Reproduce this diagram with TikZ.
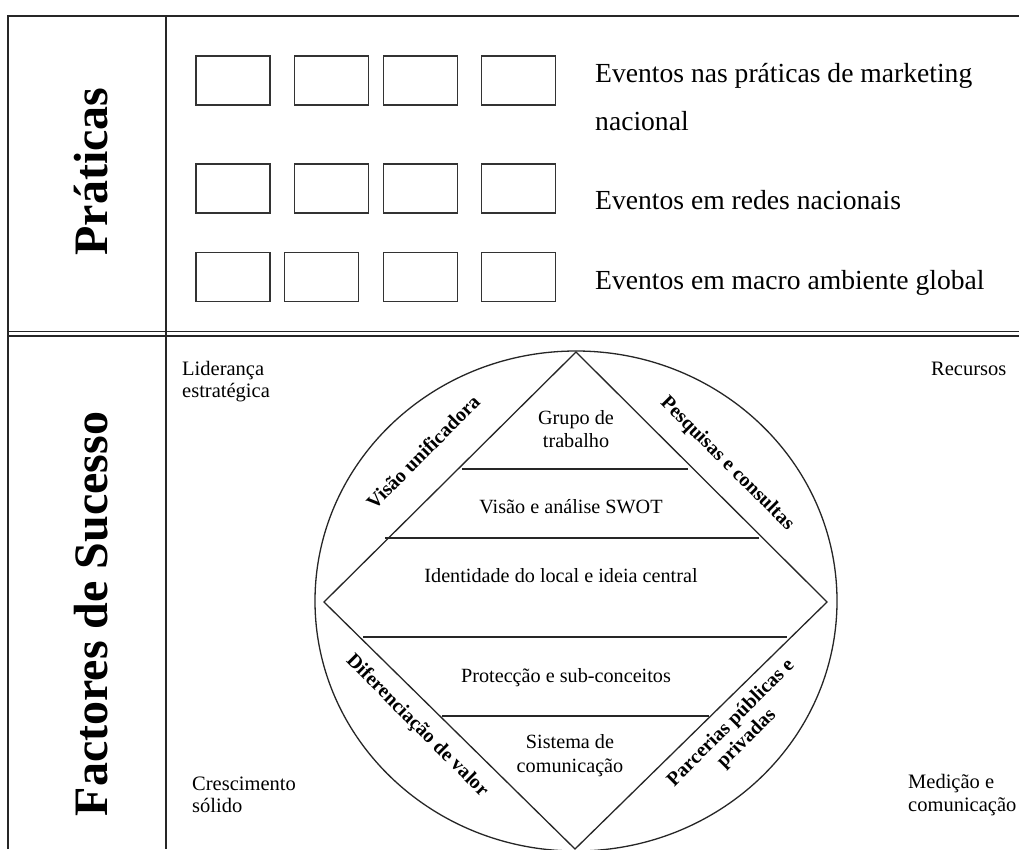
\documentclass[tikz,border=0pt]{standalone}
\usepackage{fontspec}
\setmainfont{Liberation Serif}
\begin{document}
\begin{tikzpicture}[x=1pt,y=-1pt,
  rule/.style={draw=black!85, line width=1.6pt},
  evbox/.style={draw=black!80, line width=1.3pt, minimum width=74pt, minimum height=49pt, inner sep=0pt},
  figline/.style={draw=black!85, line width=1.3pt},
  evtext/.style={font=\fontsize{27.6}{33}\selectfont, inner sep=0pt, anchor=base west},
  heading/.style={font=\fontsize{48}{56}\selectfont\bfseries, inner sep=0pt, anchor=base, rotate=90},
  corner/.style={font=\fontsize{20.5}{22}\selectfont, inner sep=0pt, anchor=base west},
  layer/.style={font=\fontsize{20.2}{23}\selectfont, inner sep=0pt, anchor=base},
  side/.style={font=\fontsize{20}{22}\selectfont\bfseries, inner sep=0pt, align=center}]

\fill[white] (0,0) rectangle (1019,849);
\useasboundingbox (0,0) rectangle (1019,849);

% table rules
\draw[rule, line join=miter] (8,849) -- (8,16) -- (1019,16);
\draw[rule] (166,16) -- (166,849);
\draw[rule] (8,331.5) -- (1019,331.5);
\draw[rule] (8,336) -- (1019,336);

% row headings
\node[heading] (hpra) at (107,171.5) {Práticas};
\node[heading] (hfac) at (107,614) {Factores de Sucesso};

% event boxes
\node[evbox] (a1) at (233,80.5) {};
\node[evbox] (a2) at (331.5,80.5) {};
\node[evbox] (a3) at (420.5,80.5) {};
\node[evbox] (a4) at (518.5,80.5) {};
\node[evbox] (b1) at (233,188.5) {};
\node[evbox] (b2) at (331.5,188.5) {};
\node[evbox] (b3) at (420.5,188.5) {};
\node[evbox] (b4) at (518.5,188.5) {};
\node[evbox] (c1) at (233,277) {};
\node[evbox] (c2) at (321.5,277) {};
\node[evbox] (c3) at (420.5,277) {};
\node[evbox] (c4) at (518.5,277) {};

\node[evtext] (ta1) at (595,82) {Eventos nas práticas de marketing};
\node[evtext] (ta2) at (595,130) {nacional};
\node[evtext] (tb)  at (595,209) {Eventos em redes nacionais};
\node[evtext] (tc)  at (595,289) {Eventos em macro ambiente global};

% outer ring and diamond
\draw[figline] (576,601) ellipse [x radius=261, y radius=250];
\coordinate (top) at (576,352);
\coordinate (lft) at (324,602);
\coordinate (rgt) at (827,602);
\coordinate (bot) at (575,849);
\draw[figline, line join=miter] (top) -- (rgt) -- (bot) -- (lft) -- cycle;

% layer separators
\coordinate (s1a) at (462,469); \coordinate (s1b) at (688,469);
\coordinate (s2a) at (385,538); \coordinate (s2b) at (759,538);
\coordinate (s3a) at (363,637); \coordinate (s3b) at (787,637);
\coordinate (s4a) at (442,716); \coordinate (s4b) at (709,716);
\draw[figline] (s1a) -- (s1b);
\draw[figline] (s2a) -- (s2b);
\draw[figline] (s3a) -- (s3b);
\draw[figline] (s4a) -- (s4b);

% layer texts
\node[layer] (l1a) at (576,424) {Grupo de};
\node[layer] (l1b) at (576,447) {trabalho};
\node[layer] (l2)  at (571,513) {Visão e análise SWOT};
\node[layer] (l3)  at (561,582) {Identidade do local e ideia central};
\node[layer] (l4)  at (566,682) {Protecção e sub-conceitos};
\node[layer] (l5a) at (570,748) {Sistema de};
\node[layer] (l5b) at (570,772) {comunicação};

% labels along the diamond edges
\node[side, rotate=45]  (eul) at (423,452) {Visão unificadora};
\node[side, rotate=-45] (eur) at (727,464) {Pesquisas e consultas};
\node[side, rotate=-45] (ell) at (417,726) {Diferenciação de valor};
\node[side, rotate=45]  (elr) at (739,731) {Parcerias públicas e\\privadas};

% corner factors
\node[corner] (k1a) at (182,375) {Liderança};
\node[corner] (k1b) at (182,397) {estratégica};
\node[corner] (k2)  at (931,375) {Recursos};
\node[corner] (k3a) at (192,790) {Crescimento};
\node[corner] (k3b) at (192,812) {sólido};
\node[corner] (k4a) at (908,788) {Medição e};
\node[corner] (k4b) at (908,811) {comunicação};
\end{tikzpicture}
\end{document}
